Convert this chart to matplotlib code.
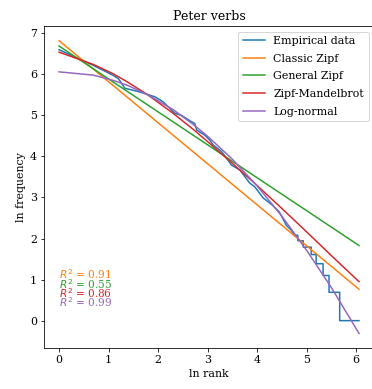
import matplotlib
matplotlib.use("Agg")
import matplotlib.pyplot as plt

plt.rcParams['font.family'] = ['DejaVu Serif']
plt.rcParams['font.size'] = 11

# empirical rank-frequency curve (ln rank, ln frequency)
emp_x = [0.0, 0.69, 1.10, 1.20, 1.33, 1.60, 1.94, 2.10, 2.34, 2.47, 2.68, 2.74, 2.78,
         2.94, 3.04, 3.11, 3.28, 3.38, 3.48, 3.65, 3.85, 3.95, 4.12, 4.32, 4.45, 4.59,
         4.69, 4.75, 4.82, 4.82, 4.93, 4.93, 5.09, 5.09, 5.19, 5.19, 5.33, 5.33, 5.45,
         5.45, 5.665, 5.665, 6.055]
emp_y = [6.60, 6.22, 5.97, 5.89, 5.66, 5.58, 5.45, 5.33, 5.05, 5.00, 4.84, 4.80, 4.64,
         4.52, 4.40, 4.28, 4.12, 3.96, 3.79, 3.67, 3.35, 3.26, 2.99, 2.80, 2.64, 2.32,
         2.20, 2.08, 2.08, 1.946, 1.946, 1.79, 1.79, 1.61, 1.61, 1.386, 1.386, 1.10, 1.10,
         0.69, 0.69, 0.0, 0.0]

# fitted models
lin_x = [0.0, 6.055]
zipf_y = [6.82, 0.765]
gzipf_y = [6.69, 1.83]

fit_x = [0.0, 0.693, 1.099, 1.386, 1.792, 2.303, 2.708, 3.0, 3.5, 4.0, 4.5, 5.0, 5.5, 6.055]
zm_y = [6.54, 6.24, 6.01, 5.81, 5.50, 5.05, 4.66, 4.36, 3.83, 3.29, 2.73, 2.16, 1.58, 0.95]
lognorm_y = [6.06, 5.98, 5.85, 5.73, 5.50, 5.14, 4.78, 4.49, 3.93, 3.28, 2.54, 1.71, 0.80, -0.31]

r2_labels = ["0.91", "0.55", "0.86", "0.99"]
r2_colors = ["C1", "C2", "C3", "C4"]

fig = plt.figure(figsize=(372 / 72, 389 / 72), dpi=72)
ax = fig.add_axes([44 / 372, 1 - 348 / 389, 330 / 372, 322 / 389])

ax.plot(emp_x, emp_y, color="C0", lw=1.5, label="Empirical data")
ax.plot(lin_x, zipf_y, color="C1", lw=1.5, label="Classic Zipf")
ax.plot(lin_x, gzipf_y, color="C2", lw=1.5, label="General Zipf")
ax.plot(fit_x, zm_y, color="C3", lw=1.5, label="Zipf-Mandelbrot")
ax.plot(fit_x, lognorm_y, color="C4", lw=1.5, label="Log-normal")

ypos = [0.229, 0.199, 0.170, 0.141]
for lab, col, yy in zip(r2_labels, r2_colors, ypos):
    ax.text(0.045, yy, "$R^2$ = " + lab, color=col, transform=ax.transAxes,
            va="center", ha="left", fontsize=10.5)

ax.set_title("Peter verbs", fontsize=12.5)
ax.set_xlabel("ln rank")
ax.set_ylabel("ln frequency")
ax.set_xticks(range(0, 7))
ax.set_yticks(range(0, 8))
ax.legend(loc="upper right", fontsize=11, labelspacing=0.7)

fig.savefig("out.png", dpi=72)
